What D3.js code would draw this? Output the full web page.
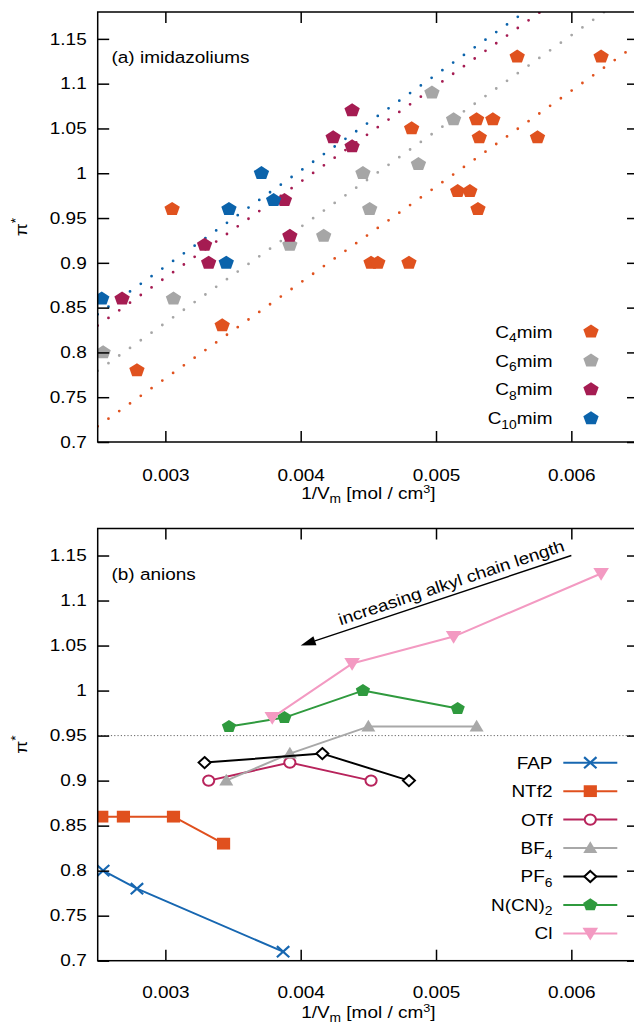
<!DOCTYPE html>
<html><head><meta charset="utf-8">
<script src="https://cdn.jsdelivr.net/npm/d3@7"></script>
<style>
html,body{margin:0;padding:0;background:#fff;}
svg{display:block;}
text{font-family:"Liberation Sans",Arial,Helvetica,sans-serif;font-size:16.5px;fill:#000;transform-box:fill-box;transform:scaleX(1.15);}
.te{transform-origin:right center;}
.tm{transform-origin:center center;}
.ts{transform-origin:left center;}
</style></head><body>
<svg id="chart" width="634" height="1027"></svg>
<script>
// ---------- data ----------
const xTicks = [0.003, 0.004, 0.005, 0.006];
const yTicks = [0.7, 0.75, 0.8, 0.85, 0.9, 0.95, 1, 1.05, 1.1, 1.15];

// panel (a): imidazolium cations
const cationLabelMain = ["C", "C", "C", "C"];
const cationLabelSub = ["4", "6", "8", "10"];
const cationLabelRest = ["mim", "mim", "mim", "mim"];
const cationColors = ["#e0521f", "#a6a6a6", "#a51c52", "#0b63ab"];
const c4mimX = [0.00305, 0.00279, 0.00342, 0.00560, 0.00622, 0.00482, 0.00530, 0.00542, 0.00532, 0.00575, 0.00516, 0.00525, 0.00531, 0.00452, 0.00457, 0.00480];
const c4mimY = [0.96, 0.78, 0.83, 1.13, 1.13, 1.05, 1.06, 1.06, 1.04, 1.04, 0.98, 0.98, 0.96, 0.90, 0.90, 0.90];
const c6mimX = [0.00497, 0.00513, 0.00446, 0.00487, 0.00451, 0.00417, 0.00392, 0.00306, 0.00254];
const c6mimY = [1.09, 1.06, 1.00, 1.01, 0.96, 0.93, 0.92, 0.86, 0.80];
const c8mimX = [0.00438, 0.00424, 0.00438, 0.00388, 0.00392, 0.00329, 0.00332, 0.00268];
const c8mimY = [1.07, 1.04, 1.03, 0.97, 0.93, 0.92, 0.90, 0.86];
const c10mimX = [0.00371, 0.00380, 0.00347, 0.00345, 0.00253];
const c10mimY = [1.00, 0.97, 0.96, 0.90, 0.86];
// dotted linear fits (slope, intercept) per cation
const fitSlope = [107, 107, 107, 107];
const fitIntercept = [0.450, 0.512, 0.5625, 0.575];

// panel (b): anions
const anionLabelMain = ["FAP", "NTf2", "OTf", "BF", "PF", "N(CN)", "Cl"];
const anionLabelSub = ["", "", "", "4", "6", "2", ""];
const anionColors = ["#1767b1", "#e0501e", "#b8245c", "#a8a8a8", "#000000", "#2f9a3e", "#f39ac2"];
const anionMarkers = ["cross", "square", "circle", "triUp", "diamond", "pent", "triDown"];
const fapX = [0.00254, 0.00279, 0.00387];
const fapY = [0.80, 0.78, 0.71];
const ntf2X = [0.00253, 0.00269, 0.00306, 0.00343];
const ntf2Y = [0.86, 0.86, 0.86, 0.83];
const otfX = [0.00332, 0.00392, 0.00452];
const otfY = [0.90, 0.92, 0.90];
const bf4X = [0.00345, 0.00392, 0.00450, 0.00530];
const bf4Y = [0.90, 0.93, 0.96, 0.96];
const pf6X = [0.00329, 0.00416, 0.00480];
const pf6Y = [0.92, 0.93, 0.90];
const ncn2X = [0.00347, 0.00388, 0.00446, 0.00516];
const ncn2Y = [0.96, 0.97, 1.00, 0.98];
const clX = [0.00379, 0.00438, 0.00513, 0.00622];
const clY = [0.97, 1.03, 1.06, 1.13];
const refLine = 0.95;
const arrowFrom = [0.0060, 1.15];
const arrowTo = [0.0040, 1.05];
const arrowText = "increasing alkyl chain length";

// ---------- layout ----------
const svg = d3.select("#chart");
const xDomain = [0.0025, 0.0065], yDomain = [0.7, 1.18];
const x = d3.scaleLinear().domain(xDomain).range([97.7, 639]);
const yA = d3.scaleLinear().domain(yDomain).range([442, 12]);
const yB = d3.scaleLinear().domain(yDomain).range([960.7, 528.5]);
const SX = 1.12;

function pentPath(R) {
  const p = d3.path();
  for (let k = 0; k < 5; k++) {
    const a = (-90 + 72 * k) * Math.PI / 180;
    const px = SX * R * Math.cos(a), py = R * Math.sin(a);
    if (k === 0) p.moveTo(px, py); else p.lineTo(px, py);
  }
  p.closePath();
  return p.toString();
}

function marker(g, type, cx, cy, color, size) {
  const m = g.append("g").attr("transform", `translate(${cx},${cy})`);
  if (type === "pent") {
    m.append("path").attr("d", pentPath(size || 7.2)).attr("fill", color);
  } else if (type === "cross") {
    const h = 5.6, w = 6.2;
    m.append("path").attr("d", `M${-w},${-h}L${w},${h}M${-w},${h}L${w},${-h}`)
      .attr("stroke", color).attr("stroke-width", 2.2).attr("fill", "none");
  } else if (type === "square") {
    const h = 5.9, w = 6.6;
    m.append("rect").attr("x", -w).attr("y", -h).attr("width", 2 * w).attr("height", 2 * h).attr("fill", color);
  } else if (type === "circle") {
    m.append("ellipse").attr("rx", 5.6).attr("ry", 5.1).attr("fill", "#fff")
      .attr("stroke", color).attr("stroke-width", 2);
  } else if (type === "triUp") {
    m.append("path").attr("d", "M0,-6.8L7,5L-7,5Z").attr("fill", color);
  } else if (type === "diamond") {
    m.append("path").attr("d", "M0,-5.6L6,0L0,5.6L-6,0Z").attr("fill", "#fff")
      .attr("stroke", color).attr("stroke-width", 2);
  } else if (type === "triDown") {
    m.append("path").attr("d", "M-7.8,-5.6L7.8,-5.6L0,7.2Z").attr("fill", color);
  }
}

function frameAndAxes(g, y, tickBase, labelBase, clipId) {
  const top = y(yDomain[1]), bot = y(yDomain[0]);
  const xl = x(xDomain[0]), xr = x(xDomain[1]);
  g.append("clipPath").attr("id", clipId).append("rect")
    .attr("x", xl).attr("y", top).attr("width", xr - xl).attr("height", bot - top);

  // axes (ticks inward, mirrored)
  const ax = g.append("g").attr("transform", `translate(0,${bot})`)
    .call(d3.axisBottom(x).tickValues(xTicks).tickSize(-11).tickPadding(tickBase - 11.5)
      .tickFormat(d => d3.format(".3f")(d)));
  ax.selectAll("text").attr("class", "tm");
  const axT = g.append("g").attr("transform", `translate(0,${top})`)
    .call(d3.axisTop(x).tickValues(xTicks).tickSize(-11).tickFormat(""));
  const ay = g.append("g").attr("transform", `translate(${xl},0)`)
    .call(d3.axisLeft(y).tickValues(yTicks).tickSize(-11.5).tickPadding(11)
      .tickFormat(d => String(+d.toFixed(2))));
  ay.selectAll("text").attr("class", "te");
  const ayR = g.append("g").attr("transform", `translate(${xr},0)`)
    .call(d3.axisRight(y).tickValues(yTicks).tickSize(-12).tickFormat(""));
  [ax, axT, ay, ayR].forEach(a => {
    a.select(".domain").remove();
    a.selectAll("line").attr("stroke", "#000").attr("stroke-width", 1.5);
  });
  g.append("rect").attr("x", xl).attr("y", top).attr("width", xr - xl).attr("height", bot - top)
    .attr("fill", "none").attr("stroke", "#000").attr("stroke-width", 1.5);

  // axis titles
  const xt = g.append("text").attr("class", "tm").attr("x", (xl + xr) / 2).attr("y", labelBase)
    .attr("text-anchor", "middle");
  xt.append("tspan").text("1/V");
  xt.append("tspan").attr("font-size", 12).attr("dy", 4).text("m");
  xt.append("tspan").attr("dy", -4).text(" [mol / cm");
  xt.append("tspan").attr("font-size", 11).attr("dy", -5.5).text("3");
  xt.append("tspan").attr("dy", 5.5).text("]");

  const yt = g.append("g").attr("transform", `translate(27,${(top + bot) / 2}) rotate(-90)`)
    .append("text").attr("class", "tm").attr("text-anchor", "middle");
  yt.append("tspan").text("π");
  yt.append("tspan").attr("font-size", 12).attr("dy", -7).text("*");
}

// ---------- panel (a) ----------
const gA = svg.append("g");
const cationX = [c4mimX, c6mimX, c8mimX, c10mimX];
const cationY = [c4mimY, c6mimY, c8mimY, c10mimY];
const fitLayer = gA.append("g").attr("clip-path", "url(#clipA)");
fitSlope.forEach((s, i) => {
  const pts = xDomain.map(v => [x(v), yA(fitIntercept[i] + s * v)]);
  fitLayer.append("path").attr("d", d3.line()(pts)).attr("fill", "none")
    .attr("stroke", cationColors[i]).attr("stroke-width", 2.8)
    .attr("stroke-linecap", "round").attr("stroke-dasharray", "0,13.2");
});
const ptLayerA = gA.append("g").attr("clip-path", "url(#clipA)");
cationX.forEach((xs, i) => {
  xs.forEach((v, j) => marker(ptLayerA, "pent", x(v), yA(cationY[i][j]), cationColors[i], 7.2));
});
frameAndAxes(gA, yA, 38.5, 499, "clipA");
gA.append("text").attr("class", "ts").attr("x", 111.5).attr("y", 63).text("(a) imidazoliums");

// legend (a)
cationLabelMain.forEach((lab, i) => {
  const cy = 331.7 + i * 28.9;
  const t = gA.append("text").attr("class", "te").attr("x", 552.5).attr("y", cy + 6).attr("text-anchor", "end");
  t.append("tspan").text(lab);
  t.append("tspan").attr("font-size", 12).attr("dy", 4.5).text(cationLabelSub[i]);
  t.append("tspan").attr("dy", -4.5).text(cationLabelRest[i]);
  marker(gA, "pent", 591, cy, cationColors[i], 7.2);
});

// ---------- panel (b) ----------
const gB = svg.append("g");
gB.append("line").attr("x1", x(xDomain[0])).attr("x2", x(xDomain[1]))
  .attr("y1", yB(refLine)).attr("y2", yB(refLine))
  .attr("stroke", "#666").attr("stroke-width", 1).attr("stroke-dasharray", "1.2,2.1");
const anionX = [fapX, ntf2X, otfX, bf4X, pf6X, ncn2X, clX];
const anionY = [fapY, ntf2Y, otfY, bf4Y, pf6Y, ncn2Y, clY];
const lineLayer = gB.append("g").attr("clip-path", "url(#clipB)");
anionX.forEach((xs, i) => {
  const pts = xs.map((v, j) => [x(v), yB(anionY[i][j])]);
  lineLayer.append("path").attr("d", d3.line()(pts)).attr("fill", "none")
    .attr("stroke", anionColors[i]).attr("stroke-width", 2).attr("stroke-linejoin", "round");
  pts.forEach(p => marker(lineLayer, anionMarkers[i], p[0], p[1], anionColors[i], 6.7));
});
frameAndAxes(gB, yB, 37, 1018, "clipB");
gB.append("text").attr("class", "ts").attr("x", 111.5).attr("y", 580).text("(b) anions");

// arrow + annotation
{
  const x1 = x(arrowFrom[0]), y1 = yB(arrowFrom[1]);
  const x2 = x(arrowTo[0]), y2 = yB(arrowTo[1]);
  const len = Math.hypot(x2 - x1, y2 - y1);
  const ux = (x2 - x1) / len, uy = (y2 - y1) / len;
  const hl = 15, hw = 4.8;
  const bx = x2 - ux * hl, by = y2 - uy * hl;
  gB.append("line").attr("x1", x1).attr("y1", y1).attr("x2", bx).attr("y2", by)
    .attr("stroke", "#000").attr("stroke-width", 1.4);
  gB.append("path").attr("d", `M${x2},${y2}L${bx - uy * hw},${by + ux * hw}L${bx + uy * hw},${by - ux * hw}Z`)
    .attr("fill", "#000");
  const ang = Math.atan2(y1 - y2, x1 - x2) * 180 / Math.PI;
  const t = 0.43;
  const mx = x1 + (x2 - x1) * t, my = y1 + (y2 - y1) * t;
  const a = ang * Math.PI / 180;
  const nx = Math.sin(a), ny = -Math.cos(a);
  gB.append("g").attr("transform", `translate(${mx + nx * 6.5},${my + ny * 6.5}) rotate(${ang})`)
    .append("text").attr("class", "tm").attr("text-anchor", "middle").text(arrowText);
}

// legend (b)
anionLabelMain.forEach((lab, i) => {
  const cy = 762.7 + i * 28.45;
  const t = gB.append("text").attr("class", "te").attr("x", 552.5).attr("y", cy + 6).attr("text-anchor", "end");
  t.append("tspan").text(lab);
  if (anionLabelSub[i]) t.append("tspan").attr("font-size", 12).attr("dy", 4.5).text(anionLabelSub[i]);
  gB.append("line").attr("x1", 563.3).attr("x2", 617.3).attr("y1", cy).attr("y2", cy)
    .attr("stroke", anionColors[i]).attr("stroke-width", 2);
  marker(gB, anionMarkers[i], 590.3, cy, anionColors[i], 6.7);
});
</script>
</body></html>
